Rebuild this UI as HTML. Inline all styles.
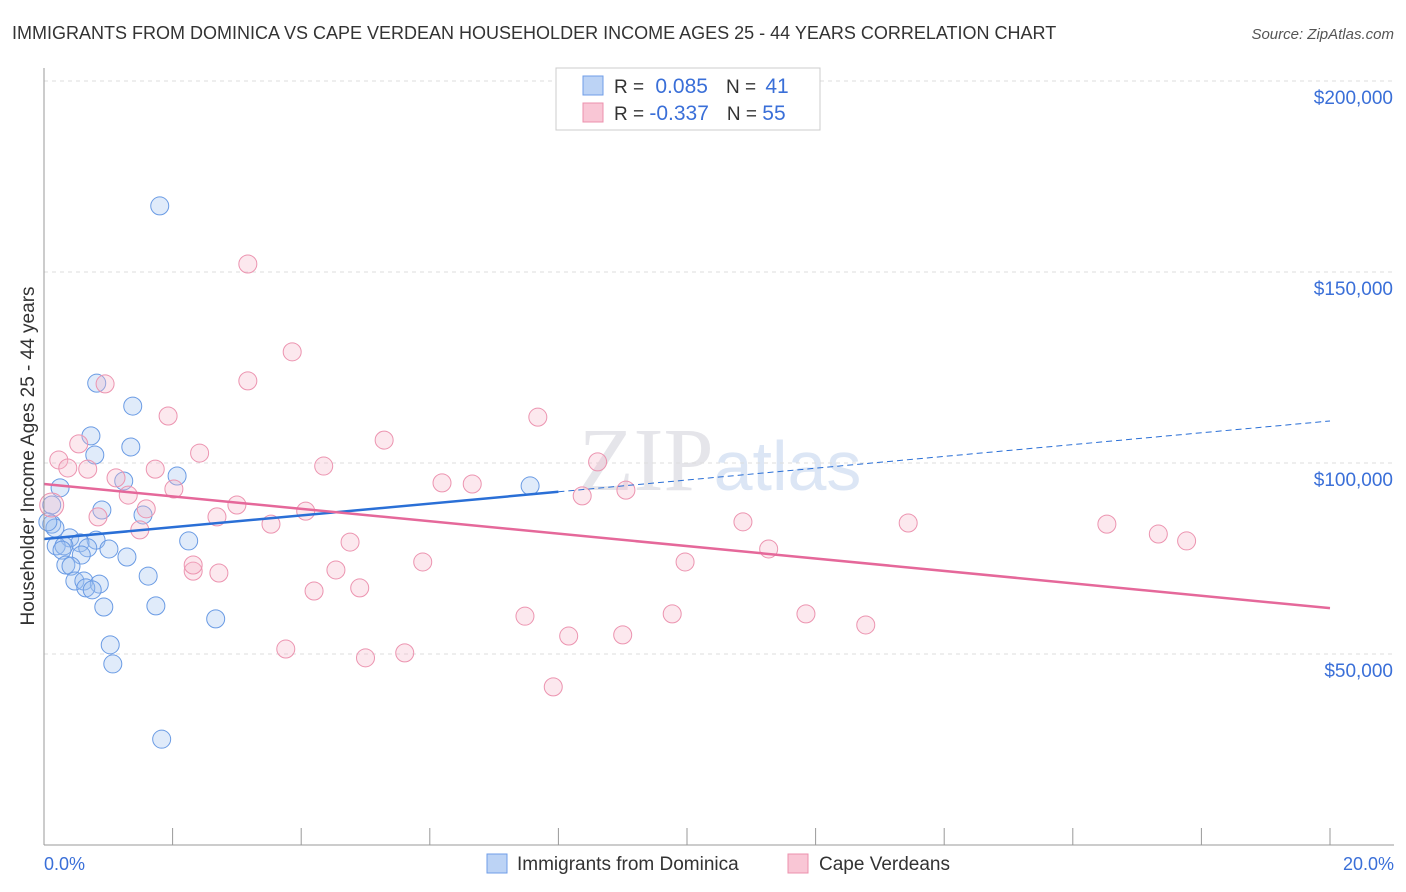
<!DOCTYPE html>
<html><head><meta charset="utf-8"><style>
body{margin:0;background:#fff;font-family:"Liberation Sans",sans-serif}
svg{display:block}
</style></head><body>
<svg id="c" width="1406" height="892" xmlns="http://www.w3.org/2000/svg">
<text x="12" y="39" font-size="18" fill="#333">IMMIGRANTS FROM DOMINICA VS CAPE VERDEAN HOUSEHOLDER INCOME AGES 25 - 44 YEARS CORRELATION CHART</text>
<text x="1394" y="39" font-size="15" fill="#555" font-style="italic" text-anchor="end">Source: ZipAtlas.com</text>
<text x="720" y="490" font-size="90" fill="#e5e5ea" text-anchor="middle" font-family="Liberation Serif,serif">ZIP<tspan fill="#dce6f5" font-family="Liberation Sans,sans-serif" font-size="70">atlas</tspan></text>
<text transform="translate(34,456) rotate(-90)" font-size="19" fill="#333" text-anchor="middle">Householder Income Ages 25 - 44 years</text>
<g id="grid"></g><g id="pts"></g><g id="lines"></g>
<line x1="44" y1="845" x2="1394" y2="845" stroke="#999"/>
<line x1="44" y1="68" x2="44" y2="845" stroke="#999"/>
<text x="44" y="870" font-size="18" fill="#3a6fd8">0.0%</text>
<text x="1394" y="870" font-size="18" fill="#3a6fd8" text-anchor="end">20.0%</text>
<g>
<rect x="556" y="68" width="264" height="62" fill="#fff" stroke="#ccc"/>
<rect x="583" y="76" width="20" height="19" fill="#bcd3f5" stroke="#6f9ee8"/>
<rect x="583" y="103" width="20" height="19" fill="#f9c6d5" stroke="#ec90ad"/>
<text x="614" y="93" font-size="19" fill="#333">R = <tspan fill="#3a6fd8" dx="6" font-size="21">0.085</tspan><tspan dx="18" fill="#333">N = </tspan><tspan fill="#3a6fd8" dx="4" font-size="21">41</tspan></text>
<text x="614" y="120" font-size="19" fill="#333">R = <tspan fill="#3a6fd8" font-size="21">-0.337</tspan><tspan dx="18" fill="#333">N = </tspan><tspan fill="#3a6fd8" font-size="21">55</tspan></text>
</g>
<g>
<rect x="487" y="854" width="20" height="19" fill="#bcd3f5" stroke="#6f9ee8"/>
<text x="517" y="870" font-size="19" fill="#333">Immigrants from Dominica</text>
<rect x="788" y="854" width="20" height="19" fill="#f9c6d5" stroke="#ec90ad"/>
<text x="819" y="870" font-size="19" fill="#333">Cape Verdeans</text>
</g>
</svg>
<script>
const yTicks=[50000,100000,150000,200000];
const yTickLabels=["$50,000","$100,000","$150,000","$200,000"];
const blueX=[1.80,0.82,1.38,0.73,1.35,0.79,2.07,1.24,0.25,7.56,0.12,0.90,1.54,0.12,0.17,0.40,0.81,2.25,0.56,0.19,0.31,0.68,1.01,0.28,0.58,1.29,0.34,0.42,1.62,0.48,0.62,0.86,0.65,0.75,0.93,1.74,2.67,1.03,1.07,1.83,0.06];
const blueY=[167300,120900,114900,107100,104200,102100,96600,95300,93500,94000,89000,87700,86400,84000,83000,80400,79800,79600,79100,78300,78300,77800,77500,77200,75900,75400,73300,73000,70400,69100,69100,68300,67300,66800,62300,62600,59200,52400,47400,27700,84600];
const pinkX=[0.12,3.17,3.86,3.17,0.95,1.93,7.68,5.29,0.54,2.42,0.23,8.61,0.37,4.35,1.73,0.68,1.12,6.19,6.66,2.02,9.05,1.31,8.37,3.00,1.59,4.07,0.84,2.69,10.87,13.44,16.53,3.53,1.49,17.33,17.77,4.76,11.27,5.89,9.97,2.32,2.72,4.54,2.32,4.20,4.91,7.48,9.77,11.85,12.78,8.16,9.00,3.76,5.61,5.00,7.92];
const pinkY=[89000,152100,129100,121500,120700,112300,112000,106000,105000,102600,100800,100300,98700,99200,98400,98400,96100,94800,94500,93200,92900,91600,91400,89000,88000,87400,85900,85900,84600,84300,84000,84000,82500,81400,79600,79300,77500,74100,74100,71700,71200,72000,73300,66500,67300,59900,60500,60500,57600,54700,55000,51300,50300,49000,41400];
const blueTrend=[80100,111000];
const blueSolidEnd=8.0;
const pinkTrend=[94500,62000];
const NS="http://www.w3.org/2000/svg";
const xs=v=>44+v/20*1286;
const ys=v=>845-v/50000*191;
function mk(t,a,p){const e=document.createElementNS(NS,t);for(const k in a)e.setAttribute(k,a[k]);p.appendChild(e);return e;}
const grid=document.getElementById('grid'),pts=document.getElementById('pts'),lines=document.getElementById('lines');
yTicks.forEach((t,i)=>{
 const l=mk('line',{x1:44,x2:1394,y1:ys(t),y2:ys(t),stroke:'#ddd','stroke-dasharray':'4,4'},grid);
 
 
 const tx=mk('text',{x:1393,y:ys(t)+23,'font-size':19,fill:'#3a6fd8','text-anchor':'end'},grid);
 tx.textContent=yTickLabels[i];
 
 
});
for(let i=1;i<=10;i++){
 const l=mk('line',{x1:xs(i*2),x2:xs(i*2),y1:828,y2:845,stroke:'#999'},grid);
 
 
}
function dots(X,Y,f,s,name){X.forEach((x,i)=>{const r=(name==='pink-point'&&i===0)?12:9;
 const c=mk('circle',{cx:xs(x),cy:ys(Y[i]),r:r,fill:f,'fill-opacity':0.32,stroke:s,'stroke-width':1},pts);
 
 });}
dots(blueX,blueY,'#9fc0f0','#6a9be4','blue-point');
dots(pinkX,pinkY,'#f7b8cb','#ec94b0','pink-point');
const bAt=x=>blueTrend[0]+(blueTrend[1]-blueTrend[0])*x/20;
let l1=mk('line',{x1:xs(0),y1:ys(bAt(0)),x2:xs(blueSolidEnd),y2:ys(bAt(blueSolidEnd)),stroke:'#2a6fd6','stroke-width':2.5},lines);


let l2=mk('line',{x1:xs(blueSolidEnd),y1:ys(bAt(blueSolidEnd)),x2:xs(20),y2:ys(bAt(20)),stroke:'#2a6fd6','stroke-width':1,'stroke-dasharray':'6,4'},lines);


let l3=mk('line',{x1:xs(0),y1:ys(pinkTrend[0]),x2:xs(20),y2:ys(pinkTrend[1]),stroke:'#e5689a','stroke-width':2.5},lines);


</script>
</body></html>
